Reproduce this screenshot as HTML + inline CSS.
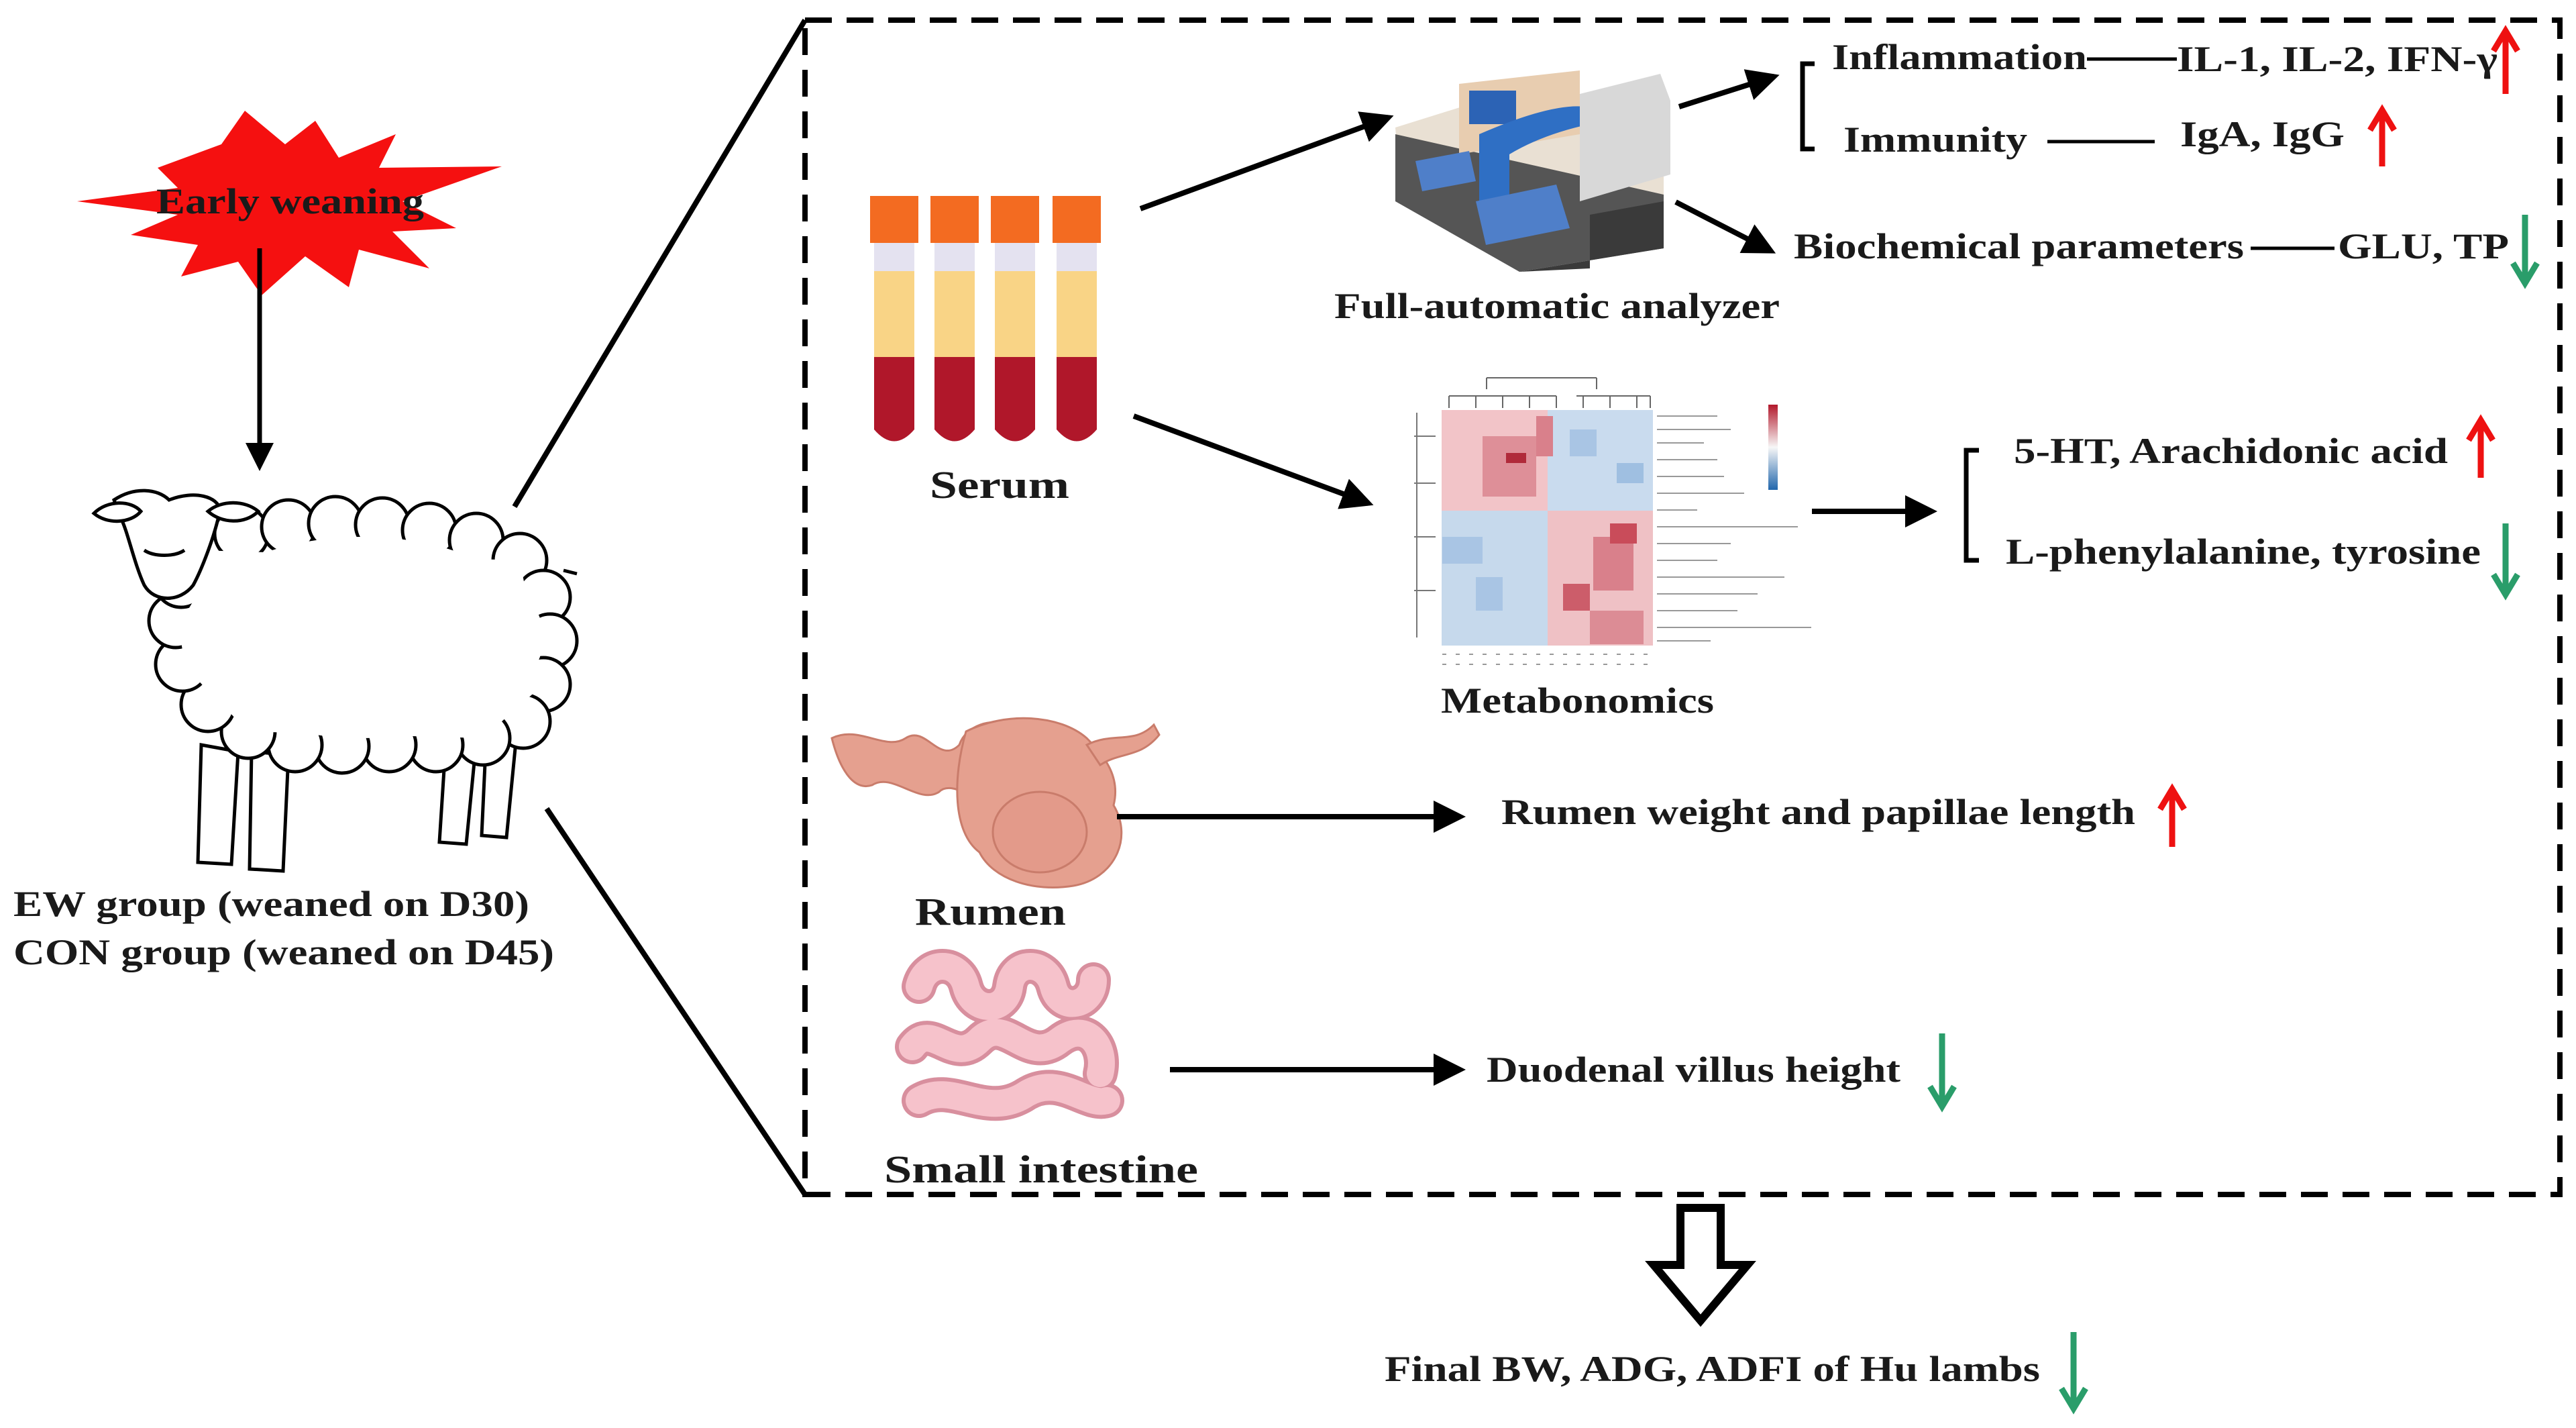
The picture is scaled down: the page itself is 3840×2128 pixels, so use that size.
<!DOCTYPE html>
<html><head><meta charset="utf-8"><style>
html,body{margin:0;padding:0;background:#fff;}
svg{display:block;}
text{font-family:"Liberation Serif",serif;font-weight:bold;fill:#1a1a1a;}
</style></head><body>
<svg width="3840" height="2128" viewBox="0 0 3840 2128" xmlns="http://www.w3.org/2000/svg">
<defs>
<marker id="ah" markerWidth="6" markerHeight="6" refX="5" refY="3" orient="auto" markerUnits="strokeWidth"><path d="M0,0 L6,3 L0,6 Z" fill="#000"/></marker>
<marker id="rh" markerWidth="44" markerHeight="44" refX="30" refY="22" orient="auto" markerUnits="userSpaceOnUse"><path d="M4,4 L34,22 L4,40" fill="none" stroke="#e11" stroke-width="9" stroke-linejoin="miter"/></marker>
<marker id="gh" markerWidth="44" markerHeight="44" refX="30" refY="22" orient="auto" markerUnits="userSpaceOnUse"><path d="M4,4 L34,22 L4,40" fill="none" stroke="#2a9d6a" stroke-width="9" stroke-linejoin="miter"/></marker>
</defs>

<rect x="1200" y="30" width="2616" height="1750" fill="none" stroke="#000" stroke-width="8" stroke-dasharray="40,22"/>
<line x1="767" y1="755" x2="1200" y2="30" stroke="#000" stroke-width="8"/>
<line x1="815" y1="1205" x2="1200" y2="1780" stroke="#000" stroke-width="8"/>

<!-- star -->
<polygon fill="#f51010" points="235,250 330,215 365,165 425,215 470,180 505,235 590,200 565,250 748,248 600,300 680,340 585,345 640,400 535,372 520,428 455,382 390,440 355,390 270,412 295,365 195,350 265,320 115,300 265,280"/>
<text x="233" y="318" font-size="54" textLength="399" lengthAdjust="spacingAndGlyphs">Early weaning</text>
<line x1="387" y1="370" x2="387" y2="695" stroke="#000" stroke-width="7" marker-end="url(#ah)"/>

<!-- sheep -->
<g stroke="#000" stroke-width="5" fill="#fff">
<path d="M300,1110 L295,1285 L345,1288 L355,1120 Z"/>
<path d="M375,1120 L372,1295 L422,1298 L430,1125 Z"/>
<path d="M665,1100 L655,1255 L695,1258 L710,1105 Z"/>
<path d="M725,1095 L718,1245 L755,1248 L770,1095 Z"/>
<g>
<circle cx="300" cy="820" r="40"/><circle cx="360" cy="795" r="40"/><circle cx="430" cy="785" r="40"/><circle cx="500" cy="780" r="40"/><circle cx="570" cy="782" r="40"/><circle cx="640" cy="790" r="40"/><circle cx="710" cy="805" r="40"/><circle cx="775" cy="835" r="40"/><circle cx="810" cy="890" r="40"/><circle cx="820" cy="955" r="40"/><circle cx="810" cy="1020" r="40"/><circle cx="780" cy="1075" r="40"/><circle cx="720" cy="1100" r="40"/><circle cx="650" cy="1110" r="40"/><circle cx="580" cy="1110" r="40"/><circle cx="510" cy="1112" r="40"/><circle cx="440" cy="1110" r="40"/><circle cx="370" cy="1090" r="40"/><circle cx="310" cy="1050" r="40"/><circle cx="272" cy="990" r="40"/><circle cx="262" cy="925" r="40"/><circle cx="270" cy="865" r="40"/>
</g>
<path d="M300,820 L775,835 L810,1020 L720,1100 L370,1090 L272,990 Z" stroke="none"/>
<ellipse cx="540" cy="950" rx="270" ry="150" stroke="none"/>
<path d="M840,850 L860,855" fill="none"/>
<path d="M170,745 C200,725 235,728 252,745 C290,730 325,740 328,760 C320,800 300,850 288,872 C268,898 230,898 215,872 C200,840 190,790 180,772 Z"/>
<path d="M140,765 C160,745 195,745 210,762 C195,780 160,782 140,765 Z"/>
<path d="M310,762 C330,745 365,745 385,762 C365,782 330,780 310,762 Z"/>
<path d="M215,820 C230,830 260,830 275,820" fill="none"/>
</g>
<text x="20" y="1365" font-size="54" textLength="769" lengthAdjust="spacingAndGlyphs">EW group (weaned on D30)</text>
<text x="20" y="1437" font-size="54" textLength="806" lengthAdjust="spacingAndGlyphs">CON group (weaned on D45)</text>

<!-- tubes -->
<g id="tube">
<rect x="1297" y="292" width="72" height="70" fill="#f36b21"/>
<rect x="1303" y="362" width="60" height="42" fill="#e4e2f0"/>
<rect x="1303" y="404" width="60" height="128" fill="#f9d486"/>
<path d="M1303,532 L1363,532 L1363,640 Q1333,675 1303,640 Z" fill="#b0172a"/>
</g>
<use href="#tube" x="90"/><use href="#tube" x="180"/><use href="#tube" x="272"/>
<text x="1386" y="742" font-size="58" textLength="208" lengthAdjust="spacingAndGlyphs">Serum</text>

<line x1="1700" y1="311" x2="2070" y2="175" stroke="#000" stroke-width="8" marker-end="url(#ah)"/>
<line x1="1690" y1="620" x2="2040" y2="750" stroke="#000" stroke-width="8" marker-end="url(#ah)"/>

<!-- analyzer -->
<g>
<polygon points="2080,190 2240,140 2480,170 2480,300 2330,330 2085,250" fill="#e9e0d3"/>
<polygon points="2080,200 2480,290 2480,370 2265,405 2080,300" fill="#555"/>
<polygon points="2265,405 2480,370 2480,300 2370,320 2370,400" fill="#3a3a3a"/>
<polygon points="2175,125 2355,105 2355,200 2175,230" fill="#e8cdb0"/>
<rect x="2190" y="135" width="70" height="50" fill="#2c63b5"/>
<path d="M2205,200 Q2320,150 2370,160 L2370,185 Q2300,200 2250,230 L2250,300 L2205,300 Z" fill="#2f6fc4"/>
<polygon points="2355,140 2475,110 2490,150 2490,260 2355,300" fill="#d8d8d8"/>
<polygon points="2110,240 2190,225 2200,270 2120,285" fill="#4f7fc9"/>
<polygon points="2200,300 2320,275 2340,340 2215,365" fill="#4f7fc9"/>
</g>
<text x="1989" y="474" font-size="54" textLength="664" lengthAdjust="spacingAndGlyphs">Full-automatic analyzer</text>

<line x1="2503" y1="159" x2="2645" y2="114" stroke="#000" stroke-width="8" marker-end="url(#ah)"/>
<line x1="2498" y1="301" x2="2640" y2="374" stroke="#000" stroke-width="8" marker-end="url(#ah)"/>

<path d="M2705,95 L2687,95 L2687,222 L2705,222" fill="none" stroke="#000" stroke-width="7"/>
<text x="2731" y="103" font-size="54" textLength="380" lengthAdjust="spacingAndGlyphs">Inflammation</text>
<line x1="3111" y1="88" x2="3245" y2="88" stroke="#000" stroke-width="5"/>
<text x="3245" y="106" font-size="54" textLength="478" lengthAdjust="spacingAndGlyphs">IL-1, IL-2, IFN-γ</text>
<line x1="3735" y1="140" x2="3735" y2="50" stroke="#e11" stroke-width="9" marker-end="url(#rh)"/>
<text x="2748" y="226" font-size="54" textLength="274" lengthAdjust="spacingAndGlyphs">Immunity</text>
<line x1="3052" y1="211" x2="3212" y2="211" stroke="#000" stroke-width="5"/>
<text x="3250" y="218" font-size="54" textLength="245" lengthAdjust="spacingAndGlyphs">IgA, IgG</text>
<line x1="3551" y1="248" x2="3551" y2="168" stroke="#e11" stroke-width="9" marker-end="url(#rh)"/>

<text x="2674" y="385" font-size="54" textLength="671" lengthAdjust="spacingAndGlyphs">Biochemical parameters</text>
<line x1="3355" y1="370" x2="3480" y2="370" stroke="#000" stroke-width="5"/>
<text x="3485" y="385" font-size="54" textLength="255" lengthAdjust="spacingAndGlyphs">GLU, TP</text>
<line x1="3764" y1="320" x2="3764" y2="418" stroke="#2a9d6a" stroke-width="9" marker-end="url(#gh)"/>

<!-- heatmap -->
<g>
<path d="M2216,563 L2380,563 M2216,563 L2216,580 M2380,563 L2380,580 M2160,590 L2320,590 M2350,590 L2460,590 M2160,590 L2160,608 M2200,590 L2200,608 M2240,590 L2240,608 M2280,590 L2280,608 M2320,590 L2320,608 M2360,590 L2360,608 M2400,590 L2400,608 M2440,590 L2440,608 M2460,590 L2460,608" stroke="#666" stroke-width="2" fill="none"/>
<path d="M2112,615 L2112,950 M2108,650 L2140,650 M2108,720 L2140,720 M2108,800 L2140,800 M2108,880 L2140,880" stroke="#777" stroke-width="2" fill="none"/>
<rect x="2149" y="611" width="158" height="150" fill="#f2c4c8"/>
<rect x="2307" y="611" width="157" height="150" fill="#c9dbee"/>
<rect x="2149" y="761" width="158" height="201" fill="#c6d9ec"/>
<rect x="2307" y="761" width="157" height="201" fill="#efc1c5"/>
<rect x="2210" y="650" width="80" height="90" fill="#de8f98"/>
<rect x="2245" y="675" width="30" height="15" fill="#b02a3a"/>
<rect x="2290" y="620" width="25" height="60" fill="#d9808b"/>
<rect x="2375" y="800" width="60" height="80" fill="#d9808b"/>
<rect x="2330" y="870" width="40" height="40" fill="#cc5d6a"/>
<rect x="2400" y="780" width="40" height="30" fill="#c94c5a"/>
<rect x="2150" y="800" width="60" height="40" fill="#a9c5e4"/>
<rect x="2200" y="860" width="40" height="50" fill="#a9c5e4"/>
<rect x="2340" y="640" width="40" height="40" fill="#a9c5e4"/>
<rect x="2410" y="690" width="40" height="30" fill="#9fbfe1"/>
<rect x="2370" y="910" width="80" height="50" fill="#dc8c95"/>
<g stroke="#999" stroke-width="2">
<line x1="2470" y1="620" x2="2560" y2="620"/><line x1="2470" y1="640" x2="2580" y2="640"/><line x1="2470" y1="660" x2="2540" y2="660"/><line x1="2470" y1="685" x2="2560" y2="685"/><line x1="2470" y1="710" x2="2570" y2="710"/><line x1="2470" y1="735" x2="2600" y2="735"/><line x1="2470" y1="760" x2="2530" y2="760"/><line x1="2470" y1="785" x2="2680" y2="785"/><line x1="2470" y1="810" x2="2580" y2="810"/><line x1="2470" y1="835" x2="2560" y2="835"/><line x1="2470" y1="860" x2="2660" y2="860"/><line x1="2470" y1="885" x2="2620" y2="885"/><line x1="2470" y1="910" x2="2590" y2="910"/><line x1="2470" y1="935" x2="2700" y2="935"/><line x1="2470" y1="955" x2="2550" y2="955"/>
</g>
<linearGradient id="lg" x1="0" y1="0" x2="0" y2="1"><stop offset="0" stop-color="#b2182b"/><stop offset="0.5" stop-color="#f7f7f7"/><stop offset="1" stop-color="#2166ac"/></linearGradient>
<rect x="2636" y="603" width="14" height="127" fill="url(#lg)"/>
<g stroke="#999" stroke-width="2"><line x1="2150" y1="975" x2="2460" y2="975" stroke-dasharray="6,14"/><line x1="2150" y1="990" x2="2460" y2="990" stroke-dasharray="6,14"/></g>
</g>
<text x="2148" y="1062" font-size="54" textLength="407" lengthAdjust="spacingAndGlyphs">Metabonomics</text>

<line x1="2701" y1="762" x2="2880" y2="762" stroke="#000" stroke-width="8" marker-end="url(#ah)"/>
<path d="M2950,671 L2931,671 L2931,835 L2950,835" fill="none" stroke="#000" stroke-width="7"/>
<text x="3002" y="690" font-size="54" textLength="647" lengthAdjust="spacingAndGlyphs">5-HT, Arachidonic acid</text>
<line x1="3698" y1="712" x2="3698" y2="630" stroke="#e11" stroke-width="9" marker-end="url(#rh)"/>
<text x="2990" y="840" font-size="54" textLength="708" lengthAdjust="spacingAndGlyphs">L-phenylalanine, tyrosine</text>
<line x1="3735" y1="780" x2="3735" y2="882" stroke="#2a9d6a" stroke-width="9" marker-end="url(#gh)"/>

<!-- rumen -->
<g fill="#e5a08f" stroke="#c97c6b" stroke-width="3">
<path d="M1240,1100 C1280,1080 1320,1120 1350,1100 C1380,1080 1400,1140 1430,1110 C1440,1080 1480,1070 1500,1080 L1500,1200 C1460,1200 1420,1160 1400,1180 C1370,1200 1330,1150 1300,1170 C1270,1180 1250,1140 1240,1100 Z"/>
<path d="M1440,1090 C1500,1060 1580,1065 1620,1100 C1650,1130 1670,1160 1660,1200 C1690,1250 1660,1310 1600,1320 C1540,1330 1480,1310 1460,1270 C1420,1240 1420,1160 1440,1090 Z"/>
<path d="M1620,1110 C1660,1090 1690,1110 1720,1080 L1728,1095 C1700,1130 1670,1120 1640,1140 Z"/>
<ellipse cx="1550" cy="1240" rx="70" ry="60" fill="#e39a8a"/>
</g>
<text x="1364" y="1378" font-size="58" textLength="225" lengthAdjust="spacingAndGlyphs">Rumen</text>
<line x1="1665" y1="1217" x2="2177" y2="1217" stroke="#000" stroke-width="8" marker-end="url(#ah)"/>
<text x="2238" y="1228" font-size="54" textLength="945" lengthAdjust="spacingAndGlyphs">Rumen weight and papillae length</text>
<line x1="3238" y1="1262" x2="3238" y2="1180" stroke="#e11" stroke-width="9" marker-end="url(#rh)"/>

<!-- small intestine -->
<g fill="none" stroke-linecap="round">
<path d="M1370,1470 C1380,1430 1430,1430 1440,1470 C1450,1510 1500,1510 1505,1470 C1510,1430 1560,1430 1570,1470 C1580,1510 1630,1500 1630,1460 M1360,1560 C1390,1520 1420,1590 1460,1550 C1500,1510 1530,1590 1580,1550 C1620,1520 1650,1560 1640,1600 M1370,1640 C1420,1610 1470,1670 1530,1630 C1580,1600 1620,1650 1650,1640" stroke="#d88f9e" stroke-width="52"/>
<path d="M1370,1470 C1380,1430 1430,1430 1440,1470 C1450,1510 1500,1510 1505,1470 C1510,1430 1560,1430 1570,1470 C1580,1510 1630,1500 1630,1460 M1360,1560 C1390,1520 1420,1590 1460,1550 C1500,1510 1530,1590 1580,1550 C1620,1520 1650,1560 1640,1600 M1370,1640 C1420,1610 1470,1670 1530,1630 C1580,1600 1620,1650 1650,1640" stroke="#f6c2cb" stroke-width="40"/>
</g>
<text x="1318" y="1762" font-size="58" textLength="468" lengthAdjust="spacingAndGlyphs">Small intestine</text>
<line x1="1744" y1="1594" x2="2177" y2="1594" stroke="#000" stroke-width="8" marker-end="url(#ah)"/>
<text x="2216" y="1612" font-size="54" textLength="617" lengthAdjust="spacingAndGlyphs">Duodenal villus height</text>
<line x1="2895" y1="1540" x2="2895" y2="1645" stroke="#2a9d6a" stroke-width="9" marker-end="url(#gh)"/>

<polygon points="2505,1800 2565,1800 2565,1885 2605,1885 2535,1968 2465,1885 2505,1885" fill="#fff" stroke="#000" stroke-width="12" stroke-linejoin="miter"/>
<text x="2064" y="2058" font-size="54" textLength="977" lengthAdjust="spacingAndGlyphs">Final BW, ADG, ADFI of Hu lambs</text>
<line x1="3091" y1="1985" x2="3091" y2="2095" stroke="#2a9d6a" stroke-width="9" marker-end="url(#gh)"/>
</svg>
</body></html>
